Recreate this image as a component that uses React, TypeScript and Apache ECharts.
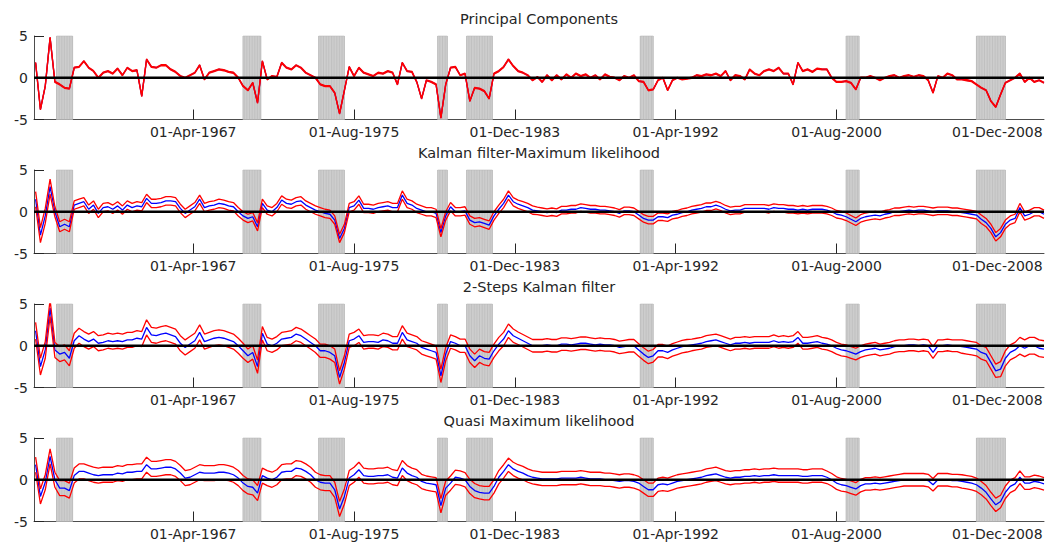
import React, { useEffect, useRef } from 'react';
import * as echarts from 'echarts';

// Titles of the four panels
const panelTitles = [
  'Principal Components',
  'Kalman filter-Maximum likelihood',
  '2-Steps Kalman filter',
  'Quasi Maximum likelihood',
];

// x axis: months since Jan-1959
const axisMinMonth = 0;
const axisMaxMonth = 628;
const tickMonths = [99, 199, 299, 399, 499, 599];
const tickLabels = ['01-Apr-1967', '01-Aug-1975', '01-Dec-1983', '01-Apr-1992', '01-Aug-2000', '01-Dec-2008'];
const yTicks = [-5, 0, 5];

// recession periods [start month, end month] since Jan-1959
const recessions = [
  [14, 24], [130, 141], [177, 193], [251, 257], [269, 285], [377, 385], [505, 513], [586, 604],
];

// quarterly estimates, 1959Q1 .. 2011Q2 (value placed at middle month of the quarter)
const pcValues = [
  1.8, -3.8, -1.0, 4.8, -0.5, -0.8, -1.2, -1.3, 1.2, 1.3, 2.0, 1.2, 0.8, 0.0, 0.6, 0.8,
  0.5, 1.1, 0.3, 1.2, 0.8, 0.9, -2.2, 2.2, 1.3, 1.2, 1.5, 1.5, 1.0, 0.7, 0.2, 0.0,
  0.3, 0.6, 1.5, -0.2, 0.6, 0.8, 1.0, 0.9, 0.7, 0.6, 0.0, -1.0, -1.5, -0.6, -3.0, 2.0,
  -0.2, 0.2, 0.1, 1.8, 1.2, 1.0, 1.5, 1.2, 0.6, 0.3, 0.0, -0.8, -1.0, -1.0, -1.8, -4.3,
  -1.5, 1.3, 0.2, 1.2, 0.6, 0.4, 0.2, 0.6, 0.5, 0.8, 0.6, -0.8, 1.8, 0.8, 0.7, -0.5,
  -2.5, -0.3, -0.5, -0.8, -4.8, -0.8, 1.2, 1.3, 0.3, 0.5, -2.8, -1.2, -1.3, -1.6, -2.5, 0.5,
  0.8, 1.3, 2.2, 1.4, 0.8, 0.6, 0.3, -0.3, 0.1, -0.5, 0.3, -0.3, 0.3, -0.2, 0.4, 0.0,
  0.5, 0.2, 0.4, 0.0, 0.3, -0.2, 0.4, 0.1, 0.0, -0.3, 0.2, 0.0, 0.3, -0.4, -0.5, -1.5,
  -1.4, -0.3, 0.0, -1.5, -0.3, 0.0, -0.2, -0.1, 0.0, 0.3, 0.2, 0.4, 0.3, 0.5, 0.2, 0.8,
  -0.3, 0.3, 0.2, -0.2, 1.0, 0.5, 0.3, 0.8, 1.0, 0.8, 1.2, 0.5, 0.5, -0.8, 1.8, 0.8,
  1.0, 0.7, 1.1, 1.0, 1.0, 0.0, -0.5, -0.5, -0.4, -0.6, -1.4, 0.0, 0.0, 0.2, 0.0, -0.3,
  0.0, 0.2, 0.3, 0.0, 0.2, 0.3, 0.1, 0.3, 0.2, -0.3, -1.8, 0.2, 0.0, 0.5, 0.3, -0.2,
  -0.2, -0.3, -0.4, -0.8, -1.2, -1.5, -2.8, -3.5, -2.0, -0.6, -0.3, 0.0, 0.5, -0.5, 0.0, -0.5,
  -0.3, -0.6,
];
const kfValues = [
  1.5, -2.8, -0.5, 3.0, 0.0, -1.8, -1.5, -1.8, 0.8, 1.0, 1.2, 0.3, 0.8, -0.2, 0.5, 0.6,
  0.3, 0.7, 0.2, 0.8, 0.5, 0.7, 0.6, 1.6, 1.0, 1.0, 1.1, 1.3, 1.3, 1.2, 0.4, -0.2,
  0.2, 0.6, 1.5, 0.5, 0.7, 0.8, 1.0, 0.9, 0.7, 0.6, 0.0, -0.5, -0.8, -0.6, -1.8, 1.0,
  0.2, 0.0, 0.5, 1.4, 1.0, 0.9, 1.2, 1.3, 0.8, 0.5, 0.2, 0.0, -0.2, -0.3, -1.0, -3.2,
  -2.0, 0.5, 0.7, 1.4, 0.4, 0.4, 0.3, 0.5, 0.6, 0.7, 0.5, 0.5, 2.0, 1.0, 0.8, 0.4,
  0.2, 0.0, 0.0, -0.2, -2.5, -0.5, 0.6, 0.0, 0.0, 0.1, -1.0, -1.3, -1.2, -1.4, -1.6, -0.5,
  0.3, 1.0, 2.0, 1.2, 0.9, 0.7, 0.5, 0.2, 0.1, 0.0, -0.1, 0.0, -0.1, 0.2, 0.2, 0.3,
  0.3, 0.5, 0.4, 0.3, 0.3, 0.2, 0.2, 0.1, 0.0, -0.2, 0.1, 0.1, 0.0, -0.4, -0.8, -1.0,
  -1.0, -0.6, -0.6, -0.7, -0.4, -0.3, -0.1, 0.0, 0.2, 0.3, 0.4, 0.6, 0.6, 0.8, 0.6, 0.3,
  0.1, 0.2, 0.2, 0.4, 0.4, 0.4, 0.4, 0.4, 0.3, 0.5, 0.4, 0.4, 0.3, 0.3, 0.2, 0.3,
  0.2, 0.3, 0.3, 0.3, 0.2, 0.0, -0.3, -0.4, -0.6, -0.9, -1.2, -0.8, -0.6, -0.5, -0.4, -0.5,
  -0.3, -0.2, 0.0, 0.0, 0.1, 0.2, 0.1, 0.2, 0.2, 0.1, 0.0, 0.1, 0.1, 0.1, 0.0, 0.0,
  -0.1, -0.2, -0.3, -0.4, -0.9, -1.3, -2.0, -3.0, -2.5, -1.5, -1.0, -0.8, 0.5, -0.5, -0.3, 0.0,
  0.0, -0.3,
];
const ksValues = [
  1.8, -2.5, -0.5, 4.5, -0.5, -1.0, -0.8, -1.5, 0.6, 1.2, 0.8, 0.5, 0.8, 0.3, 0.4, 0.6,
  0.5, 0.6, 0.5, 0.7, 0.7, 0.9, 0.8, 2.2, 1.3, 1.2, 1.4, 1.5, 1.3, 1.1, 0.3, -0.2,
  0.2, 0.6, 1.6, 0.5, 0.7, 0.9, 1.0, 0.9, 0.7, 0.5, 0.0, -0.6, -1.2, -0.8, -2.5, 1.5,
  0.2, 0.0, 0.3, 0.8, 0.9, 1.0, 1.4, 1.2, 0.8, 0.4, 0.0, -0.6, -0.6, -0.8, -1.2, -3.8,
  -2.0, 0.6, 0.8, 1.2, 0.4, 0.5, 0.5, 0.4, 0.7, 0.6, 0.3, 0.3, 1.6, 0.7, 0.5, 0.3,
  -0.2, -0.4, -0.6, -0.8, -3.6, -1.0, 0.5, 0.3, 0.0, 0.0, -1.2, -1.8, -1.2, -1.5, -1.6, -0.6,
  0.2, 0.8, 1.8, 1.2, 0.9, 0.6, 0.3, 0.0, 0.0, 0.0, 0.1, 0.0, 0.0, 0.2, 0.2, 0.1,
  0.2, 0.3, 0.3, 0.2, 0.1, 0.2, 0.1, 0.1, 0.0, -0.2, -0.1, 0.0, 0.0, -0.5, -1.0, -1.4,
  -1.2, -0.6, -0.6, -0.8, -0.5, -0.3, -0.1, 0.0, 0.1, 0.2, 0.3, 0.5, 0.6, 0.7, 0.5, 0.3,
  0.1, 0.3, 0.3, 0.4, 0.3, 0.4, 0.4, 0.4, 0.4, 0.6, 0.4, 0.5, 0.4, 0.5, 1.0, 0.3,
  0.3, 0.4, 0.5, 0.3, 0.2, 0.0, -0.3, -0.5, -0.6, -0.8, -1.0, -0.7, -0.5, -0.4, -0.3, -0.5,
  -0.4, -0.3, -0.1, 0.0, 0.0, 0.1, 0.1, 0.0, 0.1, 0.0, -0.8, 0.0, 0.0, 0.1, 0.0, 0.0,
  -0.1, -0.2, -0.3, -0.4, -0.8, -1.0, -2.0, -3.0, -2.8, -1.5, -0.8, -0.5, 0.0, -0.3, 0.0, 0.0,
  -0.3, -0.4,
];
const qmlValues = [
  1.8, -2.0, -0.3, 2.8, 0.0, -1.0, -1.0, -1.3, 0.5, 1.0, 1.0, 0.8, 0.6, 0.5, 0.6, 0.6,
  0.6, 0.8, 0.7, 0.9, 0.9, 1.0, 1.0, 1.8, 1.3, 1.3, 1.4, 1.5, 1.5, 1.3, 0.8, 0.2,
  0.3, 0.6, 0.9, 0.8, 0.8, 0.8, 0.9, 0.9, 0.8, 0.6, 0.2, -0.4, -0.8, -0.9, -1.6, 0.5,
  0.2, 0.0, 0.3, 0.9, 1.0, 1.0, 1.4, 1.3, 1.0, 0.6, 0.0, -0.3, -0.4, -0.4, -1.2, -3.5,
  -2.0, 0.2, 0.6, 1.2, 0.5, 0.4, 0.4, 0.5, 0.5, 0.6, 0.3, 0.2, 1.4, 0.8, 0.5, 0.3,
  -0.2, -0.4, -0.5, -0.6, -3.1, -1.0, -0.4, 0.3, 0.2, 0.0, -0.8, -1.3, -1.5, -1.6, -1.6, -0.8,
  0.3, 1.0, 1.8, 1.3, 1.0, 0.8, 0.5, 0.3, 0.2, 0.1, 0.1, 0.1, 0.1, 0.2, 0.2, 0.2,
  0.2, 0.3, 0.2, 0.1, 0.1, 0.1, 0.0, 0.0, -0.1, -0.2, -0.1, -0.1, -0.2, -0.4, -0.8, -1.2,
  -1.2, -0.6, -0.5, -0.6, -0.4, -0.2, -0.1, 0.0, 0.1, 0.2, 0.3, 0.5, 0.6, 0.7, 0.5, 0.3,
  0.2, 0.3, 0.3, 0.4, 0.4, 0.5, 0.4, 0.5, 0.5, 0.6, 0.5, 0.5, 0.5, 0.5, 0.5, 0.4,
  0.4, 0.5, 0.5, 0.5, 0.3, 0.0, -0.4, -0.6, -0.7, -0.9, -1.1, -0.7, -0.5, -0.5, -0.4, -0.5,
  -0.4, -0.3, -0.2, -0.1, 0.0, 0.0, 0.0, 0.0, 0.0, -0.1, -0.6, 0.0, 0.0, 0.0, -0.1, -0.1,
  -0.2, -0.3, -0.4, -0.6, -1.0, -1.5, -2.3, -3.0, -2.6, -1.5, -0.8, -0.5, 0.3, -0.4, -0.4, -0.2,
  -0.3, -0.5,
];

// half-width of the red bands, one value per year 1959..2011
const pcBand = [
  0.06, 0.06, 0.06, 0.06, 0.06, 0.06, 0.06, 0.06, 0.06, 0.06, 0.06, 0.06, 0.06, 0.06, 0.06, 0.06, 0.06, 0.06,
  0.06, 0.06, 0.06, 0.06, 0.06, 0.06, 0.06, 0.06, 0.06, 0.06, 0.06, 0.06, 0.06, 0.06, 0.06, 0.06, 0.06, 0.06,
  0.06, 0.06, 0.06, 0.06, 0.06, 0.06, 0.06, 0.06, 0.06, 0.06, 0.06, 0.06, 0.06, 0.06, 0.06, 0.06, 0.06,
];
const kfBand = [
  0.9, 0.6, 0.5, 0.5, 0.5, 0.5, 0.5, 0.5, 0.5, 0.5, 0.5, 0.5, 0.5, 0.5, 0.5, 0.5, 0.5, 0.5,
  0.5, 0.5, 0.5, 0.5, 0.5, 0.5, 0.5, 0.5, 0.45, 0.45, 0.45, 0.45, 0.45, 0.45, 0.45, 0.45, 0.45, 0.45,
  0.45, 0.45, 0.45, 0.45, 0.45, 0.45, 0.45, 0.45, 0.45, 0.45, 0.45, 0.45, 0.45, 0.5, 0.5, 0.5, 0.5,
];
const ksBand = [
  1.0, 0.9, 0.9, 0.9, 0.9, 0.9, 0.9, 0.9, 0.9, 0.9, 0.9, 0.8, 0.8, 0.8, 0.8, 0.8, 0.8, 0.8,
  0.8, 0.8, 0.8, 0.8, 0.8, 0.8, 0.8, 0.75, 0.75, 0.75, 0.75, 0.75, 0.75, 0.75, 0.75, 0.75, 0.7, 0.7,
  0.7, 0.7, 0.7, 0.7, 0.7, 0.7, 0.7, 0.7, 0.7, 0.7, 0.7, 0.7, 0.8, 0.8, 0.9, 1.0, 1.0,
];
const qmlBand = [
  0.9, 0.9, 0.9, 0.9, 0.9, 0.9, 0.9, 0.9, 0.9, 0.9, 0.9, 0.9, 0.9, 0.9, 0.9, 0.9, 0.9, 0.9,
  0.9, 0.9, 0.85, 0.85, 0.85, 0.8, 0.8, 0.8, 0.8, 0.8, 0.8, 0.8, 0.8, 0.8, 0.8, 0.8, 0.8, 0.8,
  0.8, 0.8, 0.8, 0.8, 0.8, 0.75, 0.75, 0.75, 0.75, 0.75, 0.75, 0.75, 0.8, 0.8, 0.75, 0.75, 0.75,
];

const panelValues = [pcValues, kfValues, ksValues, qmlValues];
const panelBands = [pcBand, kfBand, ksBand, qmlBand];

const FONT = '"DejaVu Sans", "Liberation Sans", Arial, sans-serif';
const gridTops = [36, 170, 304, 438];
const gridHeight = 83.5;

function buildOption() {
  const grids: any[] = [];
  const xAxes: any[] = [];
  const yAxes: any[] = [];
  const series: any[] = [];
  const graphics: any[] = [];

  panelValues.forEach((vals, p) => {
    grids.push({ left: 34, right: 4, top: gridTops[p], height: gridHeight, containLabel: false });
    xAxes.push({
      gridIndex: p,
      type: 'value',
      min: axisMinMonth,
      max: axisMaxMonth,
      axisLine: { show: true, onZero: false, lineStyle: { color: '#4d4d4d', width: 1 } },
      axisTick: { show: true, inside: true, length: 10, customValues: tickMonths, lineStyle: { color: '#262626' } },
      axisLabel: {
        show: true,
        customValues: tickMonths,
        formatter: (v: number) => {
          const k = tickMonths.indexOf(Math.round(v));
          return k >= 0 ? tickLabels[k] : '';
        },
        color: '#262626',
        fontSize: 14,
        fontFamily: FONT,
        margin: 5,
      },
      splitLine: { show: false },
    });
    yAxes.push({
      gridIndex: p,
      type: 'value',
      min: yTicks[0],
      max: yTicks[2],
      interval: 5,
      axisLine: { show: true, onZero: false, lineStyle: { color: '#4d4d4d', width: 1 } },
      axisTick: { show: true, inside: true, length: 10, lineStyle: { color: '#262626' } },
      axisLabel: { color: '#262626', fontSize: 14, fontFamily: FONT, margin: 6 },
      splitLine: { show: false },
    });

    const band = panelBands[p];
    const blue = vals.map((v, i) => [3 * i + 1, v]);
    const upper = vals.map((v, i) => [3 * i + 1, v + band[Math.floor(i / 4)]]);
    const lower = vals.map((v, i) => [3 * i + 1, v - band[Math.floor(i / 4)]]);

    series.push({
      type: 'custom',
      xAxisIndex: p,
      yAxisIndex: p,
      data: recessions,
      encode: { x: [0, 1] },
      z: 1,
      silent: true,
      renderItem: (_params: any, api: any) => {
        const s = api.value(0);
        const e = api.value(1);
        const a = api.coord([s, 5]);
        const b = api.coord([e, -5]);
        const children: any[] = [
          {
            type: 'rect',
            shape: { x: a[0], y: a[1], width: b[0] - a[0], height: b[1] - a[1] },
            style: { fill: '#d6d6d6', stroke: '#bdbdbd', lineWidth: 0.6 },
          },
        ];
        for (let m = s; m <= e; m += 1) {
          const t = api.coord([m, 5]);
          const u = api.coord([m, -5]);
          children.push({
            type: 'line',
            shape: { x1: t[0], y1: t[1], x2: u[0], y2: u[1] },
            style: { stroke: '#b2b2b2', lineWidth: 0.6 },
          });
        }
        return { type: 'group', children };
      },
    });
    series.push({
      type: 'line', xAxisIndex: p, yAxisIndex: p, data: blue, showSymbol: false, symbol: 'none',
      lineStyle: { color: '#0000ff', width: 1.3 }, z: 3, silent: true,
    });
    series.push({
      type: 'line', xAxisIndex: p, yAxisIndex: p, data: upper, showSymbol: false, symbol: 'none',
      lineStyle: { color: '#ff0000', width: 1.3 }, z: 4, silent: true,
    });
    series.push({
      type: 'line', xAxisIndex: p, yAxisIndex: p, data: lower, showSymbol: false, symbol: 'none',
      lineStyle: { color: '#ff0000', width: 1.3 }, z: 4, silent: true,
    });
    series.push({
      type: 'line', xAxisIndex: p, yAxisIndex: p, data: [[axisMinMonth, 0], [axisMaxMonth, 0]],
      showSymbol: false, symbol: 'none', lineStyle: { color: '#000000', width: 2.6 }, z: 5, silent: true,
    });

    graphics.push({
      type: 'text',
      x: 539,
      y: gridTops[p] - 17,
      style: {
        text: panelTitles[p],
        textAlign: 'center',
        textVerticalAlign: 'middle',
        fill: '#262626',
        font: `14.5px ${FONT}`,
      },
    });
  });

  return {
    animation: false,
    backgroundColor: '#ffffff',
    grid: grids,
    xAxis: xAxes,
    yAxis: yAxes,
    series,
    graphic: graphics,
  };
}

export default function App() {
  const ref = useRef<HTMLDivElement>(null);
  useEffect(() => {
    document.body.style.margin = '0';
    if (!ref.current) return;
    const chart = echarts.init(ref.current, null, { renderer: 'svg' });
    chart.setOption(buildOption());
    return () => chart.dispose();
  }, []);
  return <div ref={ref} style={{ width: 1048, height: 546 }} />;
}
